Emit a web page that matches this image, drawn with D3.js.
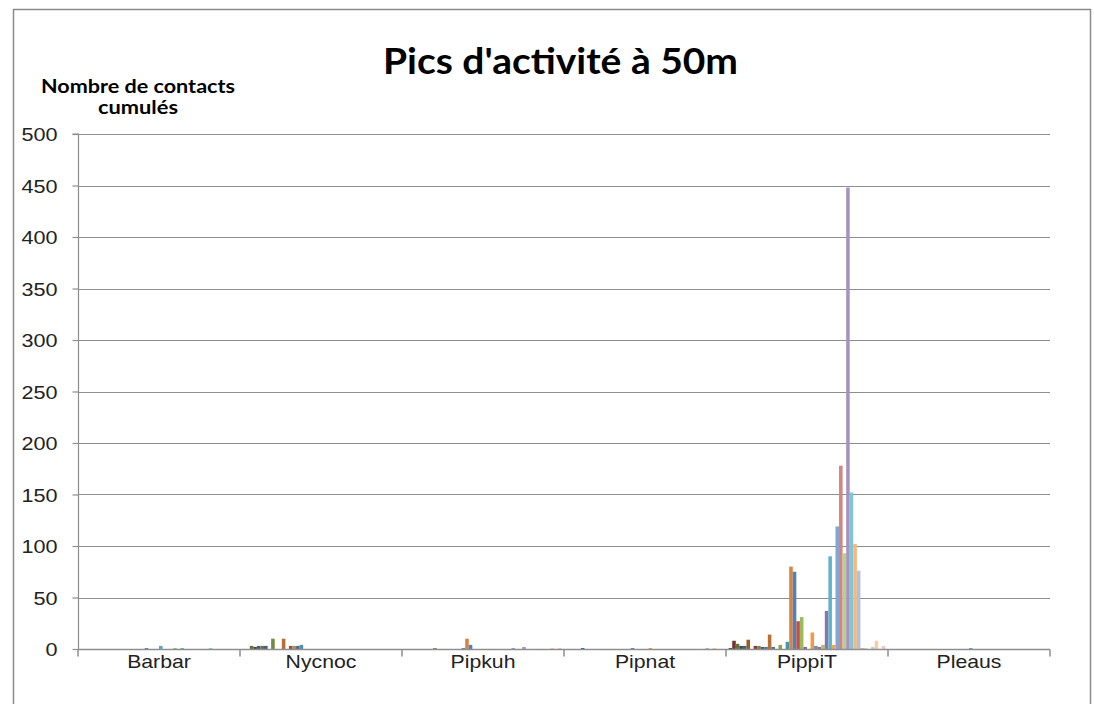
<!DOCTYPE html>
<html>
<head>
<meta charset="utf-8">
<script src="https://cdn.jsdelivr.net/npm/d3@7"></script>
<style>
  html, body { margin: 0; padding: 0; background: #ffffff; }
  svg { display: block; }
</style>
</head>
<body>
<svg id="chart" width="1094" height="704"></svg>
<script>
// ---------------- DATA ----------------
const chartTitle = "Pics d'activité à 50m";
const yTitleLines = ["Nombre de contacts", "cumulés"];
const categories = ["Barbar", "Nycnoc", "Pipkuh", "Pipnat", "PippiT", "Pleaus"];
const yTicks = [0, 50, 100, 150, 200, 250, 300, 350, 400, 450, 500];
const seriesCount = 44;
const seriesNames = d3.range(1, seriesCount + 1).map(i => "Série " + i);

// values per category, one entry per series (44 series)
const barbar = [0,0,0,0,0,0,0,0,0,0,0,0,0,0,0,0,0,0,1,0,0,0,3,0,0,0,1,0,1,0,0,0,0,0,0,0,1,0,0,0,0,0,0,0];
const nycnoc = [0,0,3,2,3,3,3,0,10,0,0,10,0,3,3,3,4,0,0,0,0,0,0,0,0,0,0,0,0,0,0,0,0,0,0,0,0,0,0,0,0,0,0,0];
const pipkuh = [0,0,0,0,0,0,0,0,1,0,0,0,0,0,0,0,1,10,4,0,0,0,0,0,0,0,0,0,0,0,1,0,0,2,0,0,0,0,0,0,0,1,0,1];
const pipnat = [0,0,0,0,1,0,0,0,0,0,0,0,0,0,0,0,0,0,1,0,0,0,0,1,0,0,0,0,0,0,0,0,0,0,0,0,0,0,0,1,0,1,0,0];
const pippit = [1,8,5,3,3,9,0,3,3,2,2,14,2,0,4,0,7,80,75,27,31,2,0,16,3,2,4,37,90,4,119,178,93,448,152,102,76,1,1,0,2,8,0,3];
const pleaus = [0,0,0,0,0,0,0,0,0,0,0,0,0,0,0,0,0,0,0,0,0,0,1,0,0,0,0,0,0,0,0,0,0,0,0,0,0,0,0,0,0,0,0,0];
const valuesByCategory = [barbar, nycnoc, pipkuh, pipnat, pippit, pleaus];

// ---------------- STYLE ----------------
const baseColors = ["#4F81BD", "#C0504D", "#9BBB59", "#8064A2", "#4BACC6", "#F79646"];
const shadeSteps = [-0.38, -0.26, -0.12, 0, 0.1, 0.3, 0.52, 0.7];
function seriesColor(i) {
  const base = d3.rgb(baseColors[i % 6]);
  const f = shadeSteps[Math.floor(i / 6)];
  return f < 0 ? d3.interpolateRgb(base, "#000")(-f) : d3.interpolateRgb(base, "#fff")(f);
}

const svg = d3.select("#chart");
const W = 1094, H = 704;
const plot = { left: 78, right: 1050, top: 134, bottom: 649 };
const gridColor = "#8e8e8e";
const labelFont = "'Liberation Sans', Arial, sans-serif";
const boldFont = "Lato, 'Liberation Sans', Arial, sans-serif";

svg.append("rect").attr("x", 0).attr("y", 0).attr("width", W).attr("height", H).attr("fill", "#fff");
// chart frame
svg.append("rect").attr("x", 13.5).attr("y", 9.5).attr("width", 1077).attr("height", 720)
  .attr("fill", "none").attr("stroke", "#8a8a8a").attr("stroke-width", 1.5);

const x0 = d3.scaleBand().domain(categories).range([plot.left, plot.right]).paddingInner(0).paddingOuter(0);
const bw = x0.bandwidth();
const barW = bw / (seriesCount + 1.5);
const x1 = d3.scaleBand().domain(d3.range(seriesCount))
  .range([0.75 * barW, bw - 0.75 * barW]).padding(0);
const y = d3.scaleLinear().domain([0, 500]).range([plot.bottom, plot.top]);

// gridlines
svg.append("g").selectAll("line").data(yTicks.filter(d => d > 0)).join("line")
  .attr("x1", plot.left).attr("x2", plot.right)
  .attr("y1", d => Math.round(y(d)) + 0.5).attr("y2", d => Math.round(y(d)) + 0.5)
  .attr("stroke", gridColor).attr("stroke-width", 1.2);

// bars
const groups = svg.append("g").selectAll("g").data(categories).join("g")
  .attr("transform", d => `translate(${x0(d)},0)`);
groups.selectAll("rect")
  .data((c, ci) => valuesByCategory[ci].map((v, si) => ({ v, si })))
  .join("rect")
  .attr("x", d => x1(d.si))
  .attr("width", x1.bandwidth())
  .attr("y", d => y(d.v))
  .attr("height", d => y(0) - y(d.v))
  .attr("fill", d => seriesColor(d.si));

// y axis
const yAxis = d3.axisLeft(y).tickValues(yTicks).tickSize(6).tickPadding(0).tickFormat(d3.format("d"));
const yg = svg.append("g").attr("transform", `translate(${plot.left + 0.5},0)`).call(yAxis);
yg.select(".domain").attr("stroke", gridColor).attr("stroke-width", 1.2).attr("d", `M-6,${y(500)}H0V${y(0)}`);
yg.selectAll(".tick line").attr("stroke", gridColor).attr("stroke-width", 1.2);
yg.selectAll(".tick text")
  .attr("x", 0).attr("dy", null).attr("dominant-baseline", null)
  .attr("text-anchor", "end")
  .attr("font-family", labelFont).attr("font-size", 18).attr("fill", "#222")
  .attr("transform", "translate(-21,6.5) scale(1.2,1)");

// x axis
const xAxis = d3.axisBottom(x0).tickSize(0).tickPadding(0);
const xg = svg.append("g").attr("transform", `translate(0,${plot.bottom + 0.5})`).call(xAxis);
xg.select(".domain").attr("stroke", gridColor).attr("stroke-width", 1.5).attr("d", `M${plot.left},0H${plot.right}`);
xg.selectAll(".tick text")
  .attr("y", 0).attr("dy", null)
  .attr("font-family", labelFont).attr("font-size", 18).attr("fill", "#222")
  .attr("transform", "translate(0,18) scale(1.18,1)");
// category boundary ticks
const bounds = categories.map(c => x0(c)).concat([plot.right]);
xg.append("g").selectAll("line").data(bounds).join("line")
  .attr("x1", d => d).attr("x2", d => d).attr("y1", 0).attr("y2", 7)
  .attr("stroke", gridColor).attr("stroke-width", 1.5);

// title
svg.append("text").attr("x", 560.5).attr("y", 74).attr("text-anchor", "middle")
  .attr("font-family", boldFont).attr("font-weight", "bold").attr("font-size", 36)
  .attr("fill", "#000").attr("textLength", 355).attr("lengthAdjust", "spacingAndGlyphs")
  .text(chartTitle);

// y axis title
svg.append("text").attr("x", 138).attr("y", 93).attr("text-anchor", "middle")
  .attr("font-family", boldFont).attr("font-weight", "bold").attr("font-size", 19)
  .attr("fill", "#000").attr("textLength", 194).attr("lengthAdjust", "spacingAndGlyphs")
  .text(yTitleLines[0]);
svg.append("text").attr("x", 138).attr("y", 114).attr("text-anchor", "middle")
  .attr("font-family", boldFont).attr("font-weight", "bold").attr("font-size", 19)
  .attr("fill", "#000").attr("textLength", 80).attr("lengthAdjust", "spacingAndGlyphs")
  .text(yTitleLines[1]);
</script>
</body>
</html>
